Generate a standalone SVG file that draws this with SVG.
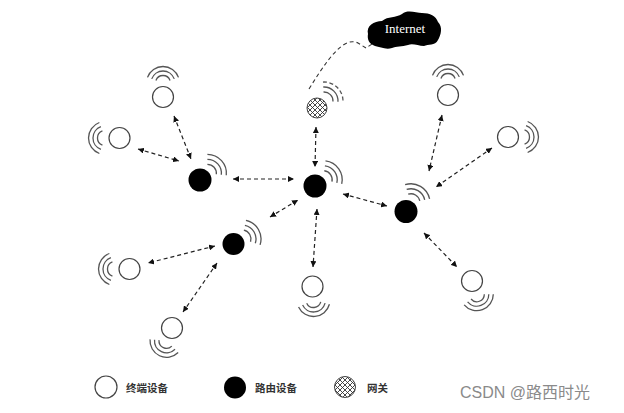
<svg xmlns="http://www.w3.org/2000/svg" xmlns:xlink="http://www.w3.org/1999/xlink" width="624" height="413" viewBox="0 0 624 413">
<style>
.end{fill:#fff;stroke:#444;stroke-width:1.2}
.router{fill:#000}
.gw{fill:url(#hatch);stroke:#444;stroke-width:1}
.wave{fill:none;stroke:#555;stroke-width:1.3}
.link{fill:none;stroke:#222;stroke-width:1.2;stroke-dasharray:4 3;marker-start:url(#ah);marker-end:url(#ah)}
.inet{fill:none;stroke:#333;stroke-width:1.1;stroke-dasharray:4 3}
.lbl{font-family:"Noto Sans CJK SC",sans-serif;font-size:10.5px;font-weight:bold;fill:#333}
</style>
<defs>
<marker id="ah" viewBox="0 0 6 6" refX="6" refY="3" markerWidth="6" markerHeight="6" markerUnits="userSpaceOnUse" orient="auto-start-reverse">
<path d="M0,0 L6,3 L0,6 z" fill="#111"/>
</marker>
<pattern id="hatch" patternUnits="userSpaceOnUse" width="5" height="5">
<rect width="5" height="5" fill="#fff"/>
<path d="M-1,1 L1,-1 M0,5 L5,0 M4,6 L6,4 M-1,4 L1,6 M0,0 L5,5 M4,-1 L6,1" stroke="#333" stroke-width="0.9"/>
</pattern>
<g id="ew">
<path class="wave" d="M2.57,-7.05 A7.5,7.5 0 0 1 2.57,7.05"/>
<path class="wave" d="M4.10,-11.28 A12,12 0 0 1 4.10,11.28"/>
<path class="wave" d="M5.64,-15.5 A16.5,16.5 0 0 1 5.64,15.5"/>
</g>
<g id="rw">
<path class="wave" d="M6.02,-6.69 A9,9 0 0 1 6.02,6.69"/>
<path class="wave" d="M9.37,-10.4 A14,14 0 0 1 9.37,10.4"/>
<path class="wave" d="M12.71,-14.12 A19,19 0 0 1 12.71,14.12"/>
</g>
</defs>
<rect width="624" height="413" fill="#fff"/>

<g id="connectors">
<path class="link" d="M174,116 L191,159"/>
<path class="link" d="M138,149 L179,161"/>
<path class="link" d="M233,179 L294,179"/>
<path class="link" d="M316,127 L315,167"/>
<path class="link" d="M270,217 L298,200"/>
<path class="link" d="M343,194 L387,206"/>
<path class="link" d="M317,209 L313,267"/>
<path class="link" d="M442,115 L429,171"/>
<path class="link" d="M492,148 L436,187"/>
<path class="link" d="M424,233 L457,267"/>
<path class="link" d="M215,246 L148,263"/>
<path class="link" d="M217,263 L183,312"/>
<path class="inet" d="M309,89 C322,68 334,50 345,44 Q352,40 358,43 L366,48 L372,44"/>
</g>

<g id="internet">
<path d="M368,34 C366,26 374,21 382,21 C388,16 396,18 402,14 C408,9 416,13 422,13 C430,13 436,16 438,22 C443,27 441,35 438,40 C435,46 428,44 424,46 C418,46 413,43 408,45 C402,47 396,46 392,48 C386,50 380,47 375,46 C369,44 367,39 368,34 z" fill="#000"/>
<text x="405" y="33" font-family="Liberation Serif,serif" font-size="13" fill="#fff" text-anchor="middle">Internet</text>
</g>

<g id="gateway">
<circle class="gw" cx="317" cy="108" r="10"/>
<g transform="translate(324,101) rotate(-45)">
<path class="wave" d="M6.02,-6.69 A9,9 0 0 1 6.02,6.69"/>
<path class="wave" d="M9.37,-10.4 A14,14 0 0 1 9.37,10.4"/>
<path class="wave" d="M12.71,-14.12 A19,19 0 0 1 12.71,14.12" stroke-dasharray="4 2.5"/>
</g>
</g>

<g id="router-left"><circle class="router" cx="200" cy="180" r="11.5"/><use xlink:href="#rw" transform="translate(207.4,173.3) rotate(-42)"/></g>
<g id="router-center"><circle class="router" cx="315" cy="186" r="11.5"/><use xlink:href="#rw" transform="translate(323.2,179.7) rotate(-35)"/></g>
<g id="router-right"><circle class="router" cx="406" cy="211.5" r="11.5"/><use xlink:href="#rw" transform="translate(411,202.8) rotate(-60)"/></g>
<g id="router-lower"><circle class="router" cx="233.5" cy="244" r="11"/><use xlink:href="#rw" transform="translate(242,239) rotate(-30)"/></g>

<g id="end-1"><circle class="end" cx="163" cy="97" r="10.5"/><use xlink:href="#ew" transform="translate(163,83) rotate(-90)"/></g>
<g id="end-2"><circle class="end" cx="119.5" cy="138" r="10.5"/><use xlink:href="#ew" transform="translate(105,138) rotate(180)"/></g>
<g id="end-3"><circle class="end" cx="448" cy="95" r="10.5"/><use xlink:href="#ew" transform="translate(448,81) rotate(-90)"/></g>
<g id="end-4"><circle class="end" cx="508" cy="137" r="10.5"/><use xlink:href="#ew" transform="translate(522,137) rotate(0)"/></g>
<g id="end-5"><circle class="end" cx="129.5" cy="269" r="10.5"/><use xlink:href="#ew" transform="translate(115,269) rotate(180)"/></g>
<g id="end-6"><circle class="end" cx="172" cy="328" r="10.5"/><use xlink:href="#ew" transform="translate(166.5,340.8) rotate(115)"/></g>
<g id="end-7"><circle class="end" cx="312.5" cy="286.5" r="10.5"/><use xlink:href="#ew" transform="translate(313.5,300) rotate(85)"/></g>
<g id="end-8"><circle class="end" cx="472" cy="281" r="10.5"/><use xlink:href="#ew" transform="translate(476.8,294.2) rotate(70)"/></g>

<g id="legend">
<circle class="end" cx="106" cy="387" r="11"/>
<text class="lbl" x="126" y="392">终端设备</text>
<circle class="router" cx="235" cy="387.5" r="11"/>
<text class="lbl" x="255" y="392">路由设备</text>
<circle class="gw" cx="345" cy="387" r="10.5"/>
<text class="lbl" x="367" y="392">网关</text>
</g>

<text x="460" y="398" font-family="Liberation Sans,Noto Sans CJK SC,sans-serif" font-size="16" fill="#8a8a8a">CSDN @路西时光</text>
</svg>
